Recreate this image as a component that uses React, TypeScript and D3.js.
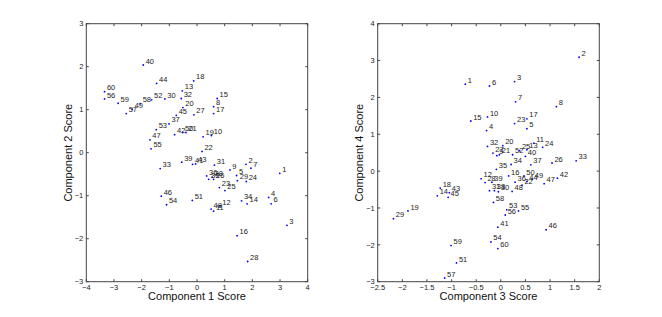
import { useRef, useEffect } from "react";
import * as d3 from "d3";

// observation numbers 1..60, one entry per point
const obsIds = d3.range(1, 61).map((d) => String(d));

const comp1 = [
  2.99, 1.77, 3.25, 2.59, 1.43, 2.68, 1.95, 0.6, 1.19, 0.52,
  0.6, 0.83, -0.53, 1.81, 0.73, 1.45, 0.6, -0.12, 0.22, -0.51,
  -0.4, 0.18, 0.81, 1.78, 1.01, 0.6, -0.11, 1.83, 1.46, -1.16,
  0.63, -0.57, -1.33, 1.61, 0.42, 0.35, -1.01, 0.55, -0.55, -1.94,
  -0.16, -0.81, -0.05, -1.46, -0.75, -1.29, -1.7, 0.51, -2.34, -0.52,
  -0.17, -1.64, -1.47, -1.1, -1.66, -3.34, -2.555, -2.05, -2.85, -3.34,
];

const comp2 = [
  -0.48, -0.27, -1.69, -1.04, -0.53, -1.19, -0.36, 1.07, -0.4, 0.4,
  -1.36, -1.24, 1.44, -1.19, 1.26, -1.93, 0.91, 1.67, 0.37, 1.05,
  0.47, 0.03, -0.81, -0.67, -0.88, -0.62, 0.88, -2.53, -0.65, 1.25,
  -0.29, 1.26, -0.37, -1.12, -0.62, -0.54, 0.67, -0.57, -0.22, 2.04,
  -0.27, 0.42, -0.26, 1.61, 0.87, -1.01, 0.3, -1.31, 1.01, 0.47,
  -1.11, 1.23, 0.535, -1.21, 0.09, 1.25, 0.91, 1.14, 1.15, 1.42,
];

const comp3 = [
  -0.72, 1.59, 0.28, -0.29, 0.53, -0.23, 0.3, 1.13, -0.08, -0.27,
  0.67, -0.4, 0.53, -1.29, -0.61, 0.16, 0.53, -1.23, -1.885, 0.04,
  -0.03, 0.43, 0.28, 0.85, 0.38, 1.04, -0.16, -0.32, -2.18, -0.05,
  -0.23, -0.27, 1.53, 0.21, -0.09, 0.29, 0.61, -0.13, -0.18, 0.5,
  -0.06, 1.15, -1.045, 0.53, -1.07, 0.92, 0.88, 0.23, 0.64, 0.47,
  -0.9, 0.24, 0.12, -0.2, 0.36, 0.09, -1.14, -0.15, -1.01, -0.06,
];

const comp4 = [
  2.36, 3.09, 2.43, 1.1, 1.15, 2.31, 1.88, 1.75, 0.42, 1.47,
  0.76, -0.21, 0.58, -0.67, 1.36, -0.13, 1.42, -0.46, -1.08, 0.69,
  0.445, -0.38, 1.29, 0.645, 0.555, 0.22, 0.49, -0.31, -1.29, -0.56,
  -0.53, 0.67, 0.28, 0.18, 0.05, -0.3, 0.17, -0.53, -0.3, 0.4,
  -1.52, -0.19, -0.585, -0.28, -0.71, -1.59, -0.34, -0.55, -0.22, -0.13,
  -2.49, 0.445, -1.05, -1.92, -1.08, -1.19, -2.9, -0.85, -2.02, -2.1,
];

const leftXTicks = [-4, -3, -2, -1, 0, 1, 2, 3, 4];
const leftYTicks = [-3, -2, -1, 0, 1, 2, 3];
const rightXTicks = [-2.5, -2, -1.5, -1, -0.5, 0, 0.5, 1, 1.5, 2];
const rightYTicks = [-3, -2, -1, 0, 1, 2, 3, 4];

const width = 662;
const height = 317;

interface PanelSpec {
  left: number;
  right: number;
  xs: number[];
  ys: number[];
  xTicks: number[];
  yTicks: number[];
  xLabel: string;
  yLabel: string;
}

function drawPanel(svg: d3.Selection<SVGSVGElement, unknown, null, undefined>, p: PanelSpec) {
  const top = 23.7;
  const bottom = 281.7;
  const axisColor = "#444";
  const font = "Liberation Sans, Arial, Helvetica, sans-serif";

  const x = d3
    .scaleLinear()
    .domain([p.xTicks[0], p.xTicks[p.xTicks.length - 1]])
    .range([p.left, p.right]);
  const y = d3
    .scaleLinear()
    .domain([p.yTicks[0], p.yTicks[p.yTicks.length - 1]])
    .range([bottom, top]);

  const g = svg.append("g");

  // box
  g.append("rect")
    .attr("x", p.left)
    .attr("y", top)
    .attr("width", p.right - p.left)
    .attr("height", bottom - top)
    .attr("fill", "none")
    .attr("stroke", axisColor)
    .attr("stroke-width", 1);

  const tickLen = 2.5;
  const fmt = (d: number) => String(d).replace("-", "\u2212");

  // x ticks (bottom and top, pointing inward)
  p.xTicks.forEach((t) => {
    g.append("line")
      .attr("x1", x(t)).attr("x2", x(t))
      .attr("y1", bottom).attr("y2", bottom - tickLen)
      .attr("stroke", axisColor);
    g.append("line")
      .attr("x1", x(t)).attr("x2", x(t))
      .attr("y1", top).attr("y2", top + tickLen)
      .attr("stroke", axisColor);
    g.append("text")
      .attr("x", x(t))
      .attr("y", bottom + 8.5)
      .attr("text-anchor", "middle")
      .attr("font-family", font)
      .attr("font-size", 7.5)
      .attr("fill", "#222")
      .text(fmt(t));
  });

  // y ticks (left and right)
  p.yTicks.forEach((t) => {
    g.append("line")
      .attr("x1", p.left).attr("x2", p.left + tickLen)
      .attr("y1", y(t)).attr("y2", y(t))
      .attr("stroke", axisColor);
    g.append("line")
      .attr("x1", p.right).attr("x2", p.right - tickLen)
      .attr("y1", y(t)).attr("y2", y(t))
      .attr("stroke", axisColor);
    g.append("text")
      .attr("x", p.left - 3)
      .attr("y", y(t) + 2.7)
      .attr("text-anchor", "end")
      .attr("font-family", font)
      .attr("font-size", 7.5)
      .attr("fill", "#222")
      .text(fmt(t));
  });

  // axis titles
  g.append("text")
    .attr("x", (p.left + p.right) / 2)
    .attr("y", bottom + 18.5)
    .attr("text-anchor", "middle")
    .attr("font-family", font)
    .attr("font-size", 11)
    .attr("fill", "#111")
    .text(p.xLabel);

  g.append("text")
    .attr("transform", `translate(${p.left - 14.5},${(top + bottom) / 2}) rotate(-90)`)
    .attr("text-anchor", "middle")
    .attr("font-family", font)
    .attr("font-size", 11)
    .attr("fill", "#111")
    .text(p.yLabel);

  const pts = obsIds.map((id, i) => ({ id, vx: p.xs[i], vy: p.ys[i] }));

  g.selectAll(".pt")
    .data(pts)
    .enter()
    .append("circle")
    .attr("cx", (d) => x(d.vx))
    .attr("cy", (d) => y(d.vy))
    .attr("r", 0.9)
    .attr("fill", "#0000ff");

  g.selectAll(".lbl")
    .data(pts)
    .enter()
    .append("text")
    .attr("x", (d) => x(d.vx) + 2.4)
    .attr("y", (d) => y(d.vy) - 1.4)
    .attr("font-family", font)
    .attr("font-size", 7.5)
    .attr("fill", "#222")
    .text((d) => d.id);
}

export default function App() {
  const svgRef = useRef<SVGSVGElement>(null);

  useEffect(() => {
    if (!svgRef.current) return;
    const svg = d3.select(svgRef.current);
    svg.selectAll("*").remove();

    svg.append("rect").attr("width", width).attr("height", height).attr("fill", "#fff");

    drawPanel(svg, {
      left: 86.3,
      right: 307.7,
      xs: comp1,
      ys: comp2,
      xTicks: leftXTicks,
      yTicks: leftYTicks,
      xLabel: "Component 1 Score",
      yLabel: "Component 2 Score",
    });

    drawPanel(svg, {
      left: 377.7,
      right: 599.3,
      xs: comp3,
      ys: comp4,
      xTicks: rightXTicks,
      yTicks: rightYTicks,
      xLabel: "Component 3 Score",
      yLabel: "Component 4 Score",
    });
  }, []);

  return (
    <svg
      ref={svgRef}
      width={width}
      height={height}
      style={{ position: "absolute", left: 0, top: 0, display: "block" }}
    />
  );
}
